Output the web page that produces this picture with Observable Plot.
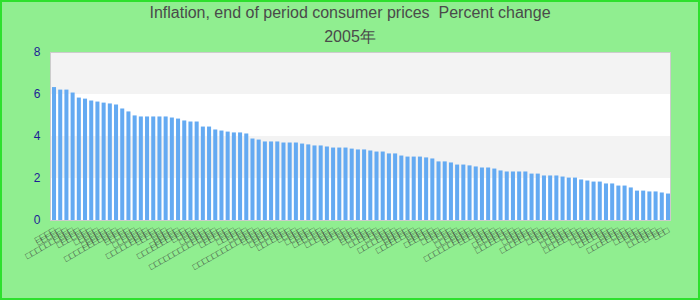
<!DOCTYPE html>
<html><head><meta charset="utf-8">
<script src="https://cdn.jsdelivr.net/npm/d3@7"></script>
<script src="https://cdn.jsdelivr.net/npm/@observablehq/plot@0.6"></script>
<style>
body{margin:0;}
#wrap{position:relative;width:700px;height:300px;background:#90ee90;overflow:hidden;font-family:"Liberation Sans",Arial,sans-serif;}
#wrap:after{content:"";position:absolute;left:0;top:0;right:0;bottom:0;border:2px solid #2de02d;pointer-events:none;}
#title{position:absolute;left:0;top:1px;width:700px;text-align:center;font-size:16px;line-height:24px;color:#4a4a4a;white-space:pre;}
#chart{position:absolute;left:0;top:40px;}
</style></head><body>
<div id="wrap"><div id="title"><div>Inflation, end of period consumer prices  Percent change</div><div>2005年</div></div><div id="chart"></div></div>
<script>
const labels = [
"□□□□","□□□□□","□□□","□□□□□□□□□□","□□□□","□□□□□□","□□□","□□□□□","□□□□","□□□□□□",
"□□□□□□□□□□□","□□□□","□□□□□","□□□","□□□□□□","□□□□","□□□□□□□□□□","□□□□□","□□□","□□□□",
"□□□□□□","□□□□□□□□□□","□□□□","□□□","□□□□□","□□□□","□□□□□□□□□□□□□□","□□□□","□□□□□□","□□□",
"□□□□□","□□□□","□□□","□□□□□□□□□□□□□□","□□□□□","□□□□","□□□□□□","□□□","□□□□□□□","□□□□",
"□□□","□□□□□","□□□□","□□□□□□","□□□","□□□□□□","□□□□","□□□□□","□□□","□□□□",
"□□□□□","□□□","□□□□□□","□□□□","□□□","□□□□□□□□","□□□□","□□□□□","□□□□□□□□","□□□",
"□□□□","□□□□□□","□□□","□□□□□","□□□□","□□□","□□□□□□","□□□□","□□□□□□□□□□□","□□□□□",
"□□□","□□□□","□□□□□□","□□□□","□□□□□□□□","□□□","□□□□□","□□□□","□□□□□□□□","□□□",
"□□□□□","□□□□","□□□","□□□□□□","□□□□","□□□□□□□□","□□□","□□□□□","□□□□","□□□□□□",
"□□□","□□□□","□□□□□□□□","□□□","□□□□□","□□□□","□□□","□□□□□□","□□□□","□□□"
];
const values = [
6.33,6.21,6.21,6.07,5.83,5.78,5.69,5.64,5.59,5.55,5.50,5.31,5.17,
4.98,4.93,4.93,4.93,4.93,4.93,4.88,4.83,4.74,4.69,4.69,4.45,
4.45,4.31,4.26,4.21,4.17,4.17,4.12,3.88,3.83,3.74,3.74,3.74,3.69,3.69,3.69,3.64,3.60,3.55,3.55,3.50,3.45,3.45,3.45,3.40,3.36,
3.36,3.31,3.26,3.26,3.17,3.17,3.07,3.02,3.02,3.02,2.98,2.93,2.79,2.79,2.74,2.64,2.64,2.60,2.55,2.50,2.50,2.45,2.36,2.31,2.31,
2.31,2.31,2.21,2.21,2.12,2.12,2.12,2.07,2.02,2.02,1.93,1.88,1.83,1.83,1.74,1.74,1.64,1.64,1.55,1.40,1.40,1.36,1.36,1.31,1.26
];
const yTicks = [0,2,4,6,8];
const shadeBands = [{y1:2,y2:4},{y1:6,y2:8}];

const data = values.map((v,i)=>({i, label:labels[i], value:v}));

const chart = Plot.plot({
  width:700, height:260,
  marginTop:12, marginBottom:80, marginLeft:50, marginRight:30,
  style:{background:"transparent", fontFamily:"'Liberation Sans', Arial, sans-serif", overflow:"visible"},
  x:{type:"band", domain:data.map(d=>d.i), paddingInner:0.35, paddingOuter:0, insetLeft:2, round:false, label:null, axis:null},
  y:{domain:[0,8], label:null, axis:null},
  marks:[
    Plot.frame({fill:"white"}),
    Plot.rect(shadeBands, {y1:"y1", y2:"y2", fill:"#f3f3f3"}),
    Plot.barY(data, {x:"i", y:"value", fill:"#64aaf2"}),
    Plot.frame({stroke:"#cccccc"}),
    Plot.axisY({ticks:yTicks, tickSize:0, tickPadding:10, fontSize:12, fill:"#1c1c96", label:null}),
    Plot.axisX({tickSize:0, tickRotate:-30, tickPadding:9, fontSize:9, fill:"#3a3a3a", tickFormat:i=>labels[i], label:null})
  ]
});
document.getElementById("chart").appendChild(chart);
</script>
</body></html>
